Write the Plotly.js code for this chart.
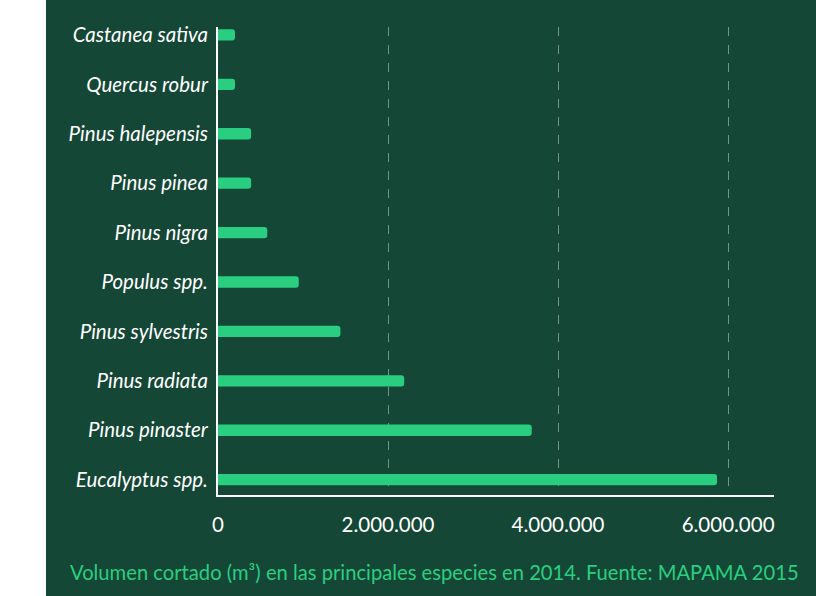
<!DOCTYPE html>
<html>
<head>
<meta charset="utf-8">
<script src="https://cdn.plot.ly/plotly-3.0.1.min.js"></script>
<style>
  html, body { margin: 0; padding: 0; background: #ffffff; }
  #chart { position: absolute; left: 46px; top: 0; width: 770px; height: 596px; }
</style>
</head>
<body>
<div id="chart"></div>
<script>
// Species (bottom to top as drawn)
const species = [
  "Eucalyptus spp.", "Pinus pinaster", "Pinus radiata", "Pinus sylvestris",
  "Populus spp.", "Pinus nigra", "Pinus pinea", "Pinus halepensis",
  "Quercus robur", "Castanea sativa"
];
// Volumen cortado (m³), 2014
const volumes = [
  5870000, 3690000, 2190000, 1440000,
  950000, 580000, 390000, 390000,
  200000, 200000
];
const tickValues = [0, 2000000, 4000000, 6000000];
const caption = "Volumen cortado (m³) en las principales especies en 2014. Fuente: MAPAMA 2015";

const BG = "#154736";
const BAR = "#2ace80";

const trace = {
  type: "bar",
  orientation: "h",
  y: species,
  x: volumes,
  width: 0.23,
  marker: { color: BAR, cornerradius: 3, line: { width: 0 } },
  hoverinfo: "x+y"
};

const layout = {
  width: 770,
  height: 596,
  paper_bgcolor: BG,
  plot_bgcolor: BG,
  separators: ",.",
  margin: { l: 172, r: 42, t: 27, b: 101 },
  showlegend: false,
  font: { family: "Lato, 'Open Sans', sans-serif", color: "#ffffff", size: 19 },
  xaxis: {
    range: [0, 6540000],
    tickvals: tickValues,
    tickformat: ",d",
    showgrid: true,
    gridcolor: "rgba(200,210,205,0.55)",
    gridwidth: 1,
    griddash: "dash",
    zeroline: false,
    showline: true,
    linecolor: "#ffffff",
    linewidth: 2,
    ticks: "",
    ticklabelstandoff: 10,
    tickfont: { family: "Lato, sans-serif", size: 20.5, color: "#ffffff", weight: 400 }
  },
  yaxis: {
    type: "category",
    categoryorder: "array",
    categoryarray: species,
    range: [-0.31, 9.16],
    showgrid: false,
    zeroline: false,
    showline: true,
    linecolor: "#ffffff",
    linewidth: 2,
    ticks: "",
    ticklabelstandoff: 4,
    tickfont: { family: "Lato, sans-serif", size: 20.5, color: "#ffffff", style: "italic", weight: 400 }
  },
  annotations: [{
    text: caption,
    xref: "paper", yref: "paper",
    x: 0.389, y: -0.1645,
    xanchor: "center", yanchor: "middle",
    showarrow: false,
    font: { family: "Lato, sans-serif", size: 20.2, color: BAR, weight: 400 }
  }]
};

Plotly.newPlot("chart", [trace], layout, { displayModeBar: false, staticPlot: true });
</script>
</body>
</html>
